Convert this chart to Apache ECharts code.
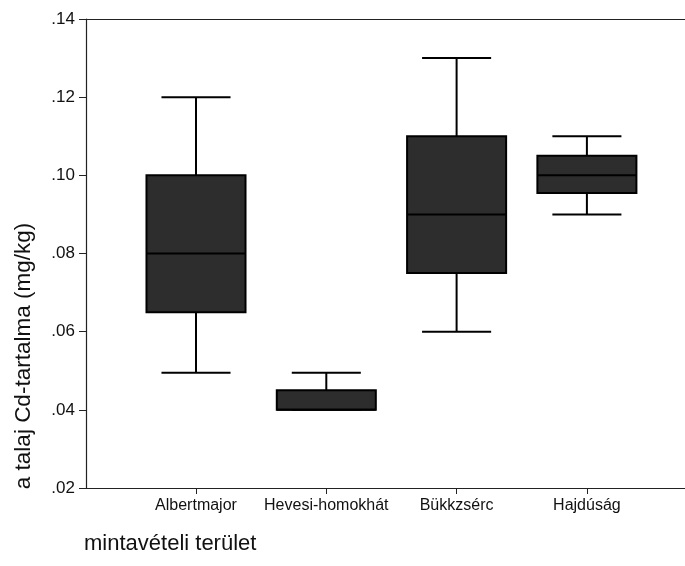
<!DOCTYPE html>
<html><head><meta charset="utf-8">
<script src="https://cdn.jsdelivr.net/npm/echarts@6/dist/echarts.min.js"></script>
<style>html,body{margin:0;padding:0;background:#fff}#c{width:685px;height:566px}</style>
</head><body><div id="c"></div>
<script>
var categories = ['Albertmajor', 'Hevesi-homokhát', 'Bükkzsérc', 'Hajdúság'];
// [min, Q1, median, Q3, max]
var boxMin    = [0.0495, 0.040, 0.060, 0.090];
var boxQ1     = [0.065,  0.040, 0.075, 0.0955];
var boxMedian = [0.080,  0.040, 0.090, 0.100];
var boxQ3     = [0.100,  0.045, 0.110, 0.105];
var boxMax    = [0.120,  0.0495, 0.130, 0.110];
var yTicks = [0.02, 0.04, 0.06, 0.08, 0.10, 0.12, 0.14];
var xTitle = 'mintavételi terület';
var yTitle = 'a talaj Cd-tartalma (mg/kg)';

var data = categories.map(function (c, i) {
  return [i, boxMin[i], boxQ1[i], boxMedian[i], boxQ3[i], boxMax[i]];
});
var font = 'Liberation Sans, Arial, sans-serif';
var chart = echarts.init(document.getElementById('c'), null, {renderer: 'canvas'});
chart.setOption({
  animation: false,
  backgroundColor: '#fff',
  grid: [
    {left: 86, right: 0, top: 19, bottom: 78},
    {left: 130.85, width: 521.2, top: 19, bottom: 78}
  ],
  graphic: [
    {type: 'text', left: 84, top: 533,
     style: {text: xTitle, fill: '#111', font: '22px ' + font}},
    {type: 'text', x: 24, y: 356, rotation: Math.PI / 2,
     style: {text: yTitle, fill: '#111', font: '22.5px ' + font, align: 'center', verticalAlign: 'middle'}}
  ],
  xAxis: [
    {type: 'value', gridIndex: 0, min: 0, max: 1, position: 'bottom',
     axisLine: {show: true, onZero: false, lineStyle: {color: '#222', width: 1.2}},
     axisTick: {show: false}, axisLabel: {show: false}, splitLine: {show: false}},
    {type: 'value', gridIndex: 0, min: 0, max: 1, position: 'top',
     axisLine: {show: true, onZero: false, lineStyle: {color: '#222', width: 1.2}},
     axisTick: {show: false}, axisLabel: {show: false}, splitLine: {show: false}},
    {type: 'category', gridIndex: 1, data: categories, boundaryGap: true,
     axisLine: {show: false},
     axisTick: {show: true, alignWithLabel: true, length: 6, lineStyle: {color: '#222'}},
     axisLabel: {color: '#111', fontFamily: font, fontSize: 16, margin: 10, interval: 0}}
  ],
  yAxis: [
    {type: 'value', gridIndex: 0, min: 0.02, max: 0.14, interval: 0.02,
     axisLine: {show: true, lineStyle: {color: '#222', width: 1.2}},
     axisTick: {show: true, length: 7, lineStyle: {color: '#222'}},
     axisLabel: {color: '#111', fontFamily: font, fontSize: 17, margin: 11,
       formatter: function (v) {
         var s = v.toFixed(2); return s.replace(/^0/, '');
       }},
     splitLine: {show: false}},
    {type: 'value', gridIndex: 1, min: 0.02, max: 0.14, show: false}
  ],
  series: [{
    type: 'custom',
    xAxisIndex: 2, yAxisIndex: 1,
    data: data,
    renderItem: function (params, api) {
      var x = api.value(0);
      var pMin = api.coord([x, api.value(1)]);
      var pQ1 = api.coord([x, api.value(2)]);
      var pMed = api.coord([x, api.value(3)]);
      var pQ3 = api.coord([x, api.value(4)]);
      var pMax = api.coord([x, api.value(5)]);
      var band = api.size([1, 0])[0];
      var bw = band * 0.76, cw = band * 0.53;
      var cx = pMed[0];
      var ls = {stroke: '#000', lineWidth: 2};
      return {type: 'group', children: [
        {type: 'line', shape: {x1: cx, y1: pQ3[1], x2: cx, y2: pMax[1]}, style: ls},
        {type: 'line', shape: {x1: cx - cw / 2, y1: pMax[1], x2: cx + cw / 2, y2: pMax[1]}, style: ls},
        {type: 'line', shape: {x1: cx, y1: pQ1[1], x2: cx, y2: pMin[1]}, style: ls},
        {type: 'line', shape: {x1: cx - cw / 2, y1: pMin[1], x2: cx + cw / 2, y2: pMin[1]}, style: ls},
        {type: 'rect', shape: {x: cx - bw / 2, y: pQ3[1], width: bw, height: pQ1[1] - pQ3[1]},
         style: {fill: '#2d2d2d', stroke: '#000', lineWidth: 2}},
        {type: 'line', shape: {x1: cx - bw / 2, y1: pMed[1], x2: cx + bw / 2, y2: pMed[1]}, style: ls}
      ]};
    }
  }]
});
</script></body></html>
